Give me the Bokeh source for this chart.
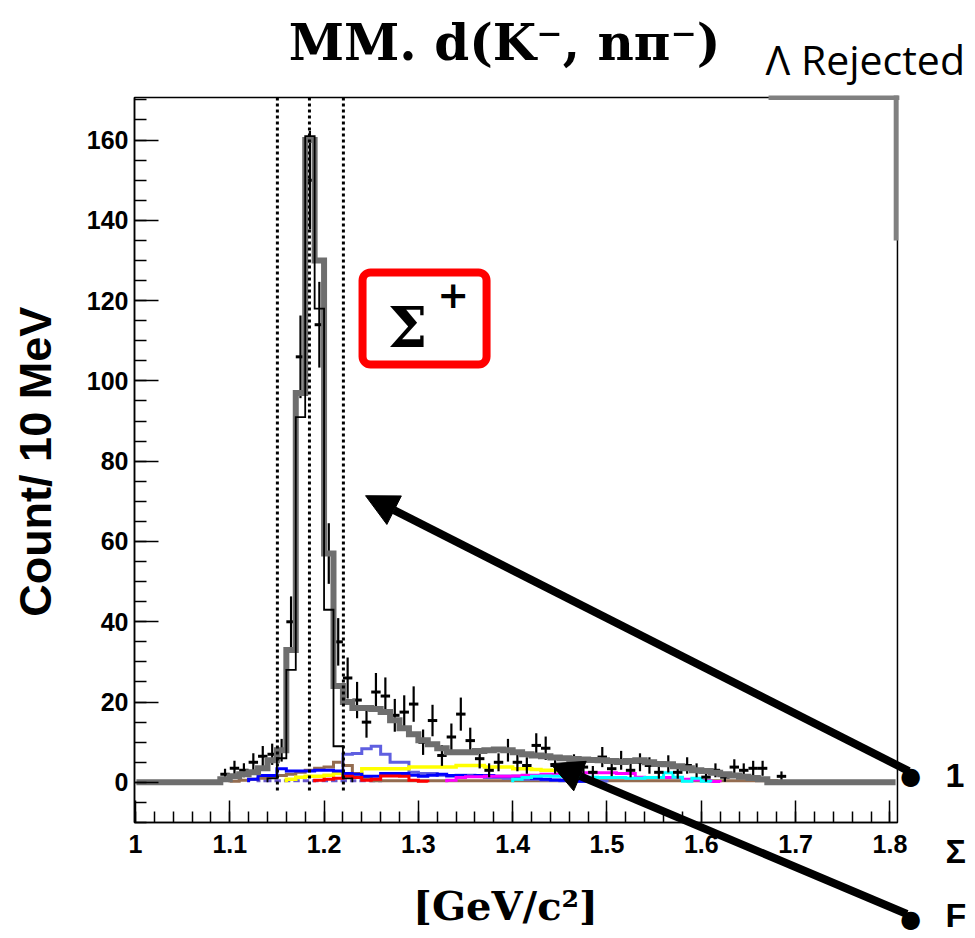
import numpy as np
from bokeh.plotting import figure
from bokeh.models import (Label, Arrow, NormalHead, BoxAnnotation, FixedTicker,
                          CustomJSTickFormatter)
from bokeh.embed import file_html
from bokeh.resources import INLINE

# ---------------- data ----------------
bin_width = 0.01

# total fit (thick gray), bins starting at 1.09
total_start = 1.09
total_vals = [0.8, 1.5, 2, 2.5, 3.5, 5.5, 8, 33, 97, 160, 130, 57, 24, 20, 18.5, 18.5,
              18.3, 17.5, 15.5, 13.5, 12, 10.5, 9.5, 8.5, 7.5, 7.5, 7.5, 7.8, 8, 8.2,
              8, 7.5, 7, 6.7, 6.5, 6.2, 6, 5.8, 5.7, 5.6, 5.5, 5.3, 5.1, 5.3, 5.5, 5,
              4.6, 4.5, 4, 3.5, 3, 2.8, 2.4, 2, 1.7, 1.4, 1.1, 0.8]

# Sigma+ signal component (thin black)
sig_start = 1.14
sig_vals = [1, 6, 28, 91, 161, 118, 43, 9, 1]

# background components
slate_start = 1.22
slate_vals = [7, 7.2, 8.4, 9, 7, 5, 5, 2.5, 2.2, 2.2, 1.8, 1.5, 1.8, 1.8, 1.5, 1.2,
              1.2, 1.0, 1.0, 0.8, 0.8, 0.6, 0.5, 0.4, 0.4, 0.3, 0.3, 0.3]
blue_start = 1.12
blue_vals = [0.8, 1.7, 1.7, 3.4, 2.8, 2.8, 2.8, 3, 3, 2.8, 2.2, 2, 1.5, 1.5, 2.2,
             2.2, 2.2, 1.8, 1.5, 1.8, 2, 1.7, 1.7, 1.5, 1.7, 1.7, 1.5, 1.5, 1.5, 1.2,
             1.0, 0.8, 0.6, 0.5, 0.5, 0.3, 0.3]
brown_start = 1.10
brown_vals = [0.3, 0.5, 0.8, 1, 1.3, 1.7, 2, 2.5, 3, 3.5, 3.8, 5, 4.2, 2.2, 1, 0.4,
              0.4, 0.4, 0.4, 0.4, 0.4, 0.4, 0.4, 0.4, 0.4, 0.4, 0.4, 0.4, 0.4, 0.4,
              0.4, 0.4, 0.4, 0.4, 0.4, 0.4, 0.4, 0.4, 0.4, 0.4, 0.4, 0.4, 0.4, 0.4,
              0.4, 0.4, 0.4, 0.4, 0.4, 0.4, 0.4, 0.4, 0.4, 0.4, 0.4, 0.4, 0.4, 0.4]
yellow_start = 1.16
yellow_vals = [0.8, 1.3, 1.5, 1.5, 1.8, 2.2, 2, 1.8, 3.4, 3.4, 3.4, 3.4, 3.4, 3.8,
               3.8, 3.8, 3.8, 3.8, 4.2, 4.2, 4.2, 3.8, 3.8, 3.8, 3.4, 3.4, 3.2, 3,
               3, 3, 2.5, 0.5, 0.3]
red_start = 1.19
red_vals = [0.5, 0.8, 1, 1.5, 1.2, 0.5, 0.8, 1.6, 1.6, 1.5, 0.5, 0.3]
magenta_start = 1.33
magenta_vals = [0.5, 1.2, 1.4, 1.4, 1.5, 1.5, 1.5, 1.6, 1.8, 1.8, 2, 2, 2.2, 2.2,
                2.4, 2.4, 2.4, 2.4, 2.2, 2.2, 1.3, 1.2, 1.2, 1.2, 1.2, 0.8, 0.6,
                0.4, 0.2]
cyan_start = 1.40
cyan_vals = [0.8, 1.2, 1.5, 1.6, 1.5, 1.5, 1.4, 1.3, 1.3, 1.2, 1.2, 1.2, 1.0, 1.0,
             1.2, 1.2, 2.4, 1.3, 0.3, 1.0, 0.3]
dash_start = 1.13
dash_vals = [0.4, 0.4, 0.4, 0.4, 0.4, 0.4, 0.4, 0.4, 0.4, 0.4, 0.4, 0.4, 0.4]

# experimental data points (bin centres, counts)
data_x = [1.095, 1.105, 1.115, 1.125, 1.135, 1.145, 1.155, 1.165, 1.175, 1.185,
          1.195, 1.205, 1.215, 1.225, 1.235, 1.245, 1.255, 1.265, 1.275, 1.285,
          1.295, 1.305, 1.315, 1.325, 1.335, 1.345, 1.355, 1.365, 1.375, 1.385,
          1.395, 1.405, 1.415, 1.425, 1.435, 1.445, 1.455, 1.465, 1.475, 1.485,
          1.495, 1.505, 1.515, 1.525, 1.535, 1.545, 1.555, 1.565, 1.575, 1.585,
          1.595, 1.605, 1.615, 1.625, 1.635, 1.645, 1.655, 1.665, 1.685]
data_y = [2, 3.5, 3, 5, 6.5, 7, 8, 40, 106, 150,
          114, 57, 35, 26, 20.5, 15, 22.5, 21.5, 16.7, 17.5,
          19.5, 10, 15.4, 6.7, 11.3, 17, 10.4, 5.9, 3, 5,
          8, 5, 4.2, 9.2, 8.5, 4.2, 3, 4.8, 3.8, 2.5,
          6.3, 3.4, 5.5, 3, 5, 4.2, 2.5, 4.6, 2.5, 4.2,
          3, 1.3, 3, 1.3, 3.8, 3, 3.5, 3.5, 1.5]

# selection window (dotted lines)
cut_x = [1.1505, 1.1845, 1.2205]

x_ticks = [1.0, 1.1, 1.2, 1.3, 1.4, 1.5, 1.6, 1.7, 1.8]
y_ticks = [0, 20, 40, 60, 80, 100, 120, 140, 160]

# histogram box limits
X_LO, X_HI = 0.999, 1.808
Y_LO, Y_HI = -10.0, 170.6


def step_path(start, vals):
    xs, ys = [], []
    prev = 0.0
    xr = start
    for i, v in enumerate(vals):
        xl = start + bin_width * i
        xr = xl + bin_width
        xs += [xl, xl, xr]
        ys += [prev, v, v]
        prev = v
    xs.append(xr)
    ys.append(0.0)
    return xs, ys


# ---------------- figure ----------------
# The frame fills the whole page; the histogram box is drawn inside it, with the
# axes pinned to its left and bottom edges.
PX_X = 943.1    # pixels per GeV/c^2
PX_Y = 4.0144   # pixels per count
p = figure(width=975, height=938,
           x_range=(X_LO - 134 / PX_X, X_LO + 841 / PX_X),
           y_range=(Y_HI - 841 / PX_Y, Y_HI + 97 / PX_Y),
           output_backend="svg", toolbar_location=None, title=None,
           min_border=0)
p.xgrid.visible = False
p.ygrid.visible = False
p.background_fill_color = "white"
p.border_fill_color = "white"
p.outline_line_color = None

xt_minor = [round(1.0 + 0.02 * i, 2) for i in range(41)]
yt_minor = list(range(-10, 171, 5))
p.xaxis.ticker = FixedTicker(ticks=x_ticks, minor_ticks=xt_minor)
p.yaxis.ticker = FixedTicker(ticks=y_ticks, minor_ticks=yt_minor)
p.xaxis.formatter = CustomJSTickFormatter(code="return (Math.round(tick*10)/10).toString();")
p.xaxis.fixed_location = Y_LO
p.yaxis.fixed_location = X_LO
p.xaxis.bounds = (X_LO, X_HI)
p.yaxis.bounds = (Y_LO, Y_HI)
for ax in (p.xaxis[0], p.yaxis[0]):
    ax.axis_line_color = "black"
    ax.axis_line_width = 1.5
    ax.major_tick_out = 0
    ax.minor_tick_out = 0
    ax.major_tick_line_width = 1.5
    ax.minor_tick_line_width = 1.5
    ax.major_label_text_font = "Liberation Sans"
    ax.major_label_text_font_style = "bold"
    ax.major_label_text_font_size = "25px"
    ax.major_label_text_color = "black"
p.xaxis.major_tick_in = 22
p.xaxis.minor_tick_in = 11
p.yaxis.major_tick_in = 24
p.yaxis.minor_tick_in = 12
p.xaxis.major_label_standoff = 12
p.yaxis.major_label_standoff = 6

# box outline (top and right sides)
p.add_layout(BoxAnnotation(left=X_LO, right=X_HI, bottom=Y_LO, top=Y_HI,
                           fill_alpha=0, line_color="black", line_alpha=1,
                           line_width=1.5, level="underlay"))

# background components
comps = [
    (dash_start, dash_vals, "#6a5acd", "4 3", 3),
    (brown_start, brown_vals, "#946c50", "solid", 3),
    (slate_start, slate_vals, "#5f5fe0", "solid", 3),
    (yellow_start, yellow_vals, "#ffff00", "solid", 3.5),
    (blue_start, blue_vals, "#0000ff", "solid", 3),
    (red_start, red_vals, "#ff0000", "solid", 3),
    (magenta_start, magenta_vals, "#ff00ff", "solid", 3),
    (cyan_start, cyan_vals, "#00ffff", "solid", 3),
]
for st, vals, col, dash, lw in comps:
    xs, ys = step_path(st, vals)
    p.line(xs, ys, line_color=col, line_width=lw, line_dash=dash, line_join="miter")

# data points with error bars
dx = np.array(data_x)
dy = np.array(data_y)
err = np.sqrt(dy)
p.segment(x0=dx, y0=dy - err, x1=dx, y1=dy + err, line_color="black", line_width=2.2)
p.segment(x0=dx - bin_width / 2, y0=dy, x1=dx + bin_width / 2, y1=dy,
          line_color="black", line_width=3)

# total fit
txs, tys = step_path(total_start, total_vals)
txs = [X_LO + 0.002] + txs + [X_HI - 0.002]
tys = [0.0] + tys + [0.0]
p.line(txs, tys, line_color="#6e6e6e", line_width=6, line_join="miter")

# signal component
sxs, sys_ = step_path(sig_start, sig_vals)
p.line(sxs, sys_, line_color="black", line_width=1.8, line_join="miter")

# window lines
p.segment(x0=cut_x, y0=[-2] * 3, x1=cut_x, y1=[Y_HI] * 3, line_color="black",
          line_width=3, line_dash="3 3")

# gray overlay pieces at top-right of the box
p.add_layout(BoxAnnotation(left=1.6713, right=X_HI + 0.002, bottom=Y_HI - 0.6,
                           top=Y_HI + 0.5, fill_color="#808080", fill_alpha=1,
                           line_color=None))
p.add_layout(BoxAnnotation(left=X_HI - 0.004, right=X_HI + 0.001, bottom=135.0,
                           top=Y_HI + 0.5, fill_color="#808080", fill_alpha=1,
                           line_color=None))

# red box with Sigma+
p.add_layout(BoxAnnotation(left=1.2408, right=1.3723, bottom=104.1, top=127.0,
                           fill_alpha=0, line_color="#ff0000", line_alpha=1,
                           line_width=8, border_radius=8))
p.add_layout(Label(x=1.2885, y=113.5, text="Σ", text_font="DejaVu Serif",
                   text_font_style="bold", text_font_size="56px", text_color="black",
                   text_align="center", text_baseline="middle"))
p.add_layout(Label(x=1.3370, y=121.5, text="+", text_font="DejaVu Serif",
                   text_font_style="bold", text_font_size="38px", text_color="black",
                   text_align="center", text_baseline="middle"))

# titles / axis labels
p.add_layout(Label(x=1.3914, y=184.3, text="MM. d(K⁻, nπ⁻)", text_font="DejaVu Serif",
                   text_font_style="bold", text_font_size="50px", text_color="black",
                   text_align="center", text_baseline="middle"))
p.add_layout(Label(x=1.6681, y=180.3, text="Λ Rejected", text_font="Open Sans",
                   text_font_size="41px", text_color="black",
                   text_align="left", text_baseline="middle"))
p.add_layout(Label(x=1.3924, y=-30.7, text="[GeV/c²]", text_font="DejaVu Serif",
                   text_font_style="bold", text_font_size="40px", text_color="black",
                   text_align="center", text_baseline="middle"))
p.add_layout(Label(x=0.894, y=81.4, text="Count/  10 MeV", angle=np.pi / 2,
                   text_font="Liberation Sans", text_font_style="bold",
                   text_font_size="45px", text_color="black",
                   text_align="center", text_baseline="middle"))

# arrows and bullets
p.add_layout(Arrow(end=NormalHead(size=32, fill_color="black", line_color="black"),
                   x_start=1.820, y_start=2.8, x_end=1.244, y_end=71.4,
                   line_width=8, line_color="black"))
p.add_layout(Arrow(end=NormalHead(size=32, fill_color="black", line_color="black"),
                   x_start=1.818, y_start=-32.8, x_end=1.4401, y_end=4.66,
                   line_width=8, line_color="black"))
for yy in (1.67, -34.0):
    p.add_layout(Label(x=1.822, y=yy, text="●", text_font="DejaVu Sans",
                       text_font_size="24px", text_color="black",
                       text_align="center", text_baseline="middle"))
for yy, tx in ((1.67, "1"), (-17.0, "Σ"), (-33.0, "F")):
    p.add_layout(Label(x=1.8590, y=yy, text=tx, text_font="Liberation Sans",
                       text_font_style="bold", text_font_size="34px", text_color="black",
                       text_align="left", text_baseline="middle"))

open("out.html", "w").write(file_html(p, INLINE))
